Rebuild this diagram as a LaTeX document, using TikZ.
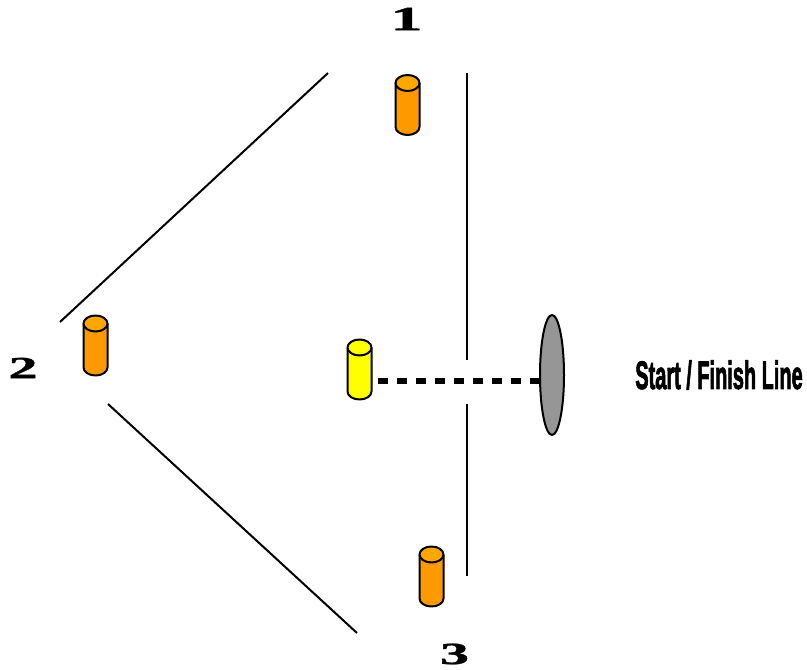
\documentclass[tikz,border=0pt]{standalone}
\usepackage{fontspec}
\usetikzlibrary{shapes.geometric}
\newfontfamily\numfont[BoldFeatures={FakeBold=1}]{Liberation Serif}
\newfontfamily\signfont[BoldFeatures={FakeBold=2.5}]{Liberation Sans}
\definecolor{coneorange}{RGB}{255,153,0}
\definecolor{conetop}{RGB}{255,166,0}
\definecolor{lineyellow}{RGB}{255,255,0}
\definecolor{finishgray}{RGB}{150,150,150}
\tikzset{every picture/.style={line width=0.75pt}}
\tikzset{
  conepart/.style={draw=black,line width=1.5pt,line join=round},
  pics/cone/.style 2 args={code={
    \draw [conepart,fill=#1] (-12,22) -- (-12,-22) arc (180:360:12 and 8) -- (12,22) ;
    \draw [conepart,fill=#2] (0,22) ellipse (12 and 8) ;
  }},
  marklabel/.style={font=\numfont\bfseries\fontsize{30}{30}\selectfont,inner sep=0pt},
  course/.style={draw=black,line width=1.5pt}
}
\newcommand{\widedigit}[1]{\scalebox{1.45}[0.77]{#1}}

\begin{document}
\begin{tikzpicture}[x=0.75pt,y=0.75pt,yscale=-1,xscale=1]
\useasboundingbox (0,0) rectangle (807,670);

%Course lines
\coordinate (c1a) at (328,73);
\coordinate (c1b) at (60,322);
\coordinate (c2a) at (108,404);
\coordinate (c2b) at (357,633);
\coordinate (c3a) at (467,73);
\coordinate (c3b) at (467,360);
\coordinate (c4a) at (467,404);
\coordinate (c4b) at (467,576);
\draw [course] (c1a) -- (c1b);
\draw [course] (c2a) -- (c2b);
\draw [course] (c3a) -- (c3b);
\draw [course] (c4a) -- (c4b);

%Cones
\pic (cone1) at (407.5,105) {cone={coneorange}{conetop}};
\pic (cone2) at (95.5,345.5) {cone={coneorange}{conetop}};
\pic (cone3) at (431.5,576.5) {cone={coneorange}{conetop}};
\pic (coneS) at (359.5,369.5) {cone={lineyellow}{lineyellow}};

%Finish marker and dashed line
\node [ellipse,draw=black,line width=1.5pt,fill=finishgray,minimum width=18pt,minimum height=90pt,inner sep=0pt] (finish) at (552,375) {};
\coordinate (dashS) at (378,381);
\draw [line width=4pt,dash pattern=on 7.5pt off 6.75pt] (dashS) -- (dashS -| finish.west);

% Text Node
\node [marklabel] (num1) at (406.5,19) {\scalebox{1.6}[0.85]{1}};
\node [marklabel] (num2) at (23,368) {\widedigit{2}};
\node [marklabel] (num3) at (454.5,654) {\widedigit{3}};
\node [font=\signfont\bfseries\fontsize{22}{22}\selectfont,inner sep=0pt] (signS) at (719,375) {\scalebox{0.68}[1.35]{Start / Finish Line}};
\end{tikzpicture}
\end{document}
